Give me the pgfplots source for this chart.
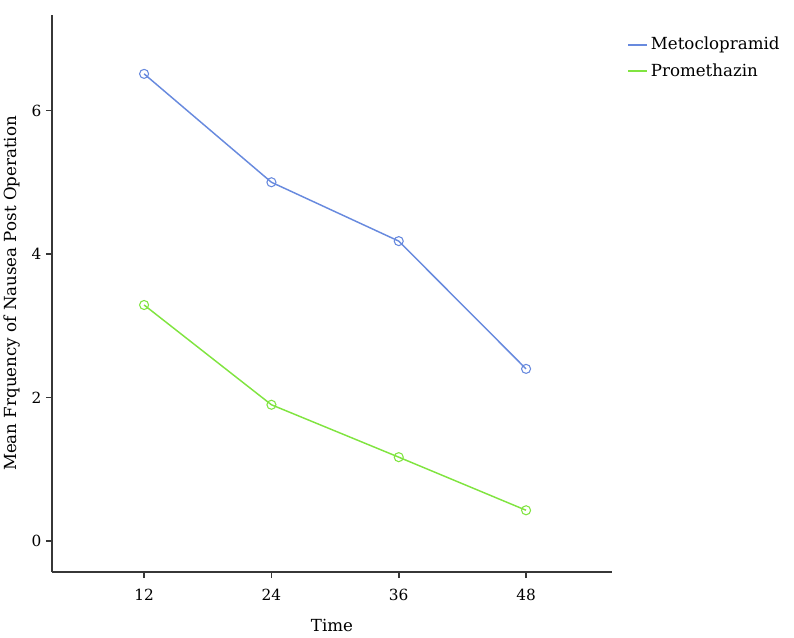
\documentclass[border=0pt]{standalone}
\usepackage{pgfplots}
\pgfplotsset{compat=1.18}
\usepackage{fontspec}
\setmainfont{DejaVu Serif}
\definecolor{metoc}{RGB}{104,138,222}
\definecolor{prom}{RGB}{128,228,64}
\definecolor{axc}{RGB}{55,55,55}
\begin{document}
\begin{tikzpicture}
\useasboundingbox (-39pt,-48.75pt) rectangle (556.5pt,429pt);
\begin{axis}[
  at={(0pt,0pt)}, anchor=south west,
  scale only axis, width=420pt, height=417.75pt,
  xmin=3.32, xmax=56.1, ymin=-0.43, ymax=7.33,
  axis lines*=left,
  axis line style={axc, line width=1.3pt, -},
  xtick={12,24,36,48}, ytick={0,2,4,6},
  tick style={axc, line width=1.2pt},
  tick align=outside, major tick length=4.5pt,
  font=\fontsize{11.5pt}{13pt}\selectfont,
  ticklabel style={font=\fontsize{11.5pt}{13pt}\selectfont},
  xticklabel style={yshift=-5pt},
  /pgf/number format/assume math mode=true,
  xlabel={Time}, ylabel={Mean Frquency of Nausea Post Operation},
  xlabel style={font=\fontsize{12.5pt}{14pt}\selectfont, at={(axis description cs:0.5,0)}, anchor=north, yshift=-32pt},
  ylabel style={font=\fontsize{12.5pt}{14pt}\selectfont, yshift=2pt},
  legend style={draw=none, fill=none, at={(1.02,0.97)}, anchor=north west,
    font=\fontsize{12.5pt}{14pt}\selectfont, row sep=5pt},
  legend cell align=left,
  legend image code/.code={\draw[#1, mark=none, line width=1.3pt] (0cm,0cm) -- (0.5cm,0cm);},
]
\addplot[color=metoc, line width=1.1pt, mark=o, mark size=3.4pt, mark options={line width=0.8pt}]
  coordinates {(12,6.51) (24,5.00) (36,4.18) (48,2.40)};
\addlegendentry{Metoclopramid}
\addplot[color=prom, line width=1.1pt, mark=o, mark size=3.4pt, mark options={line width=0.8pt}]
  coordinates {(12,3.29) (24,1.90) (36,1.17) (48,0.43)};
\addlegendentry{Promethazin}
\end{axis}
\end{tikzpicture}
\end{document}
